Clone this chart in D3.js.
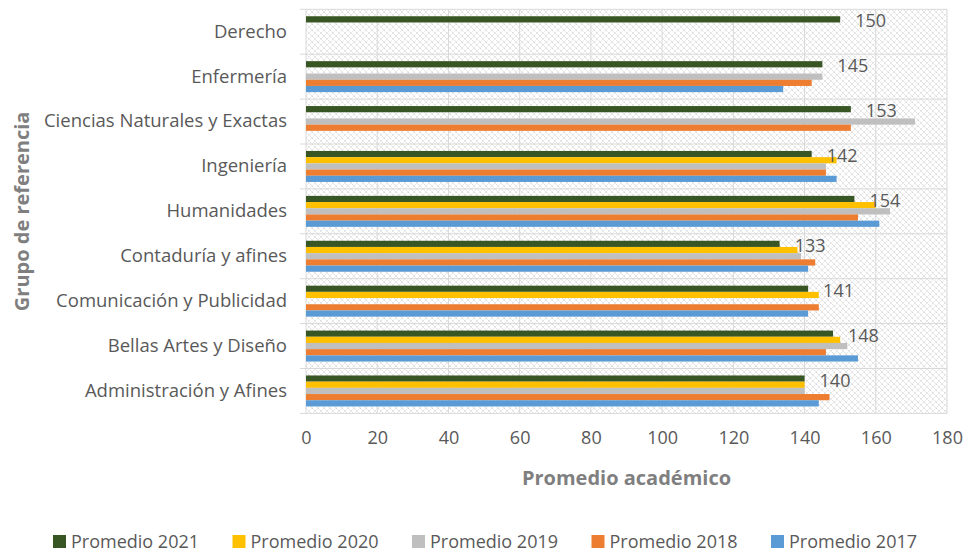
<!DOCTYPE html>
<html>
<head>
<meta charset="utf-8">
<script src="https://cdn.jsdelivr.net/npm/d3@7"></script>
<style>
  body { margin: 0; background: #fff; }
  svg { display: block; font-family: "Open Sans", sans-serif; }
  .tick text { fill: #595959; }
</style>
</head>
<body>
<div id="chart"></div>
<script>
// data
var categories = ["Derecho", "Enfermería", "Ciencias Naturales y Exactas", "Ingeniería",
  "Humanidades", "Contaduría y afines", "Comunicación y Publicidad",
  "Bellas Artes y Diseño", "Administración y Afines"];
var seriesNames = ["Promedio 2021", "Promedio 2020", "Promedio 2019", "Promedio 2018", "Promedio 2017"];
var prom2021 = [150, 145, 153, 142, 154, 133, 141, 148, 140];
var prom2020 = [null, null, null, 149, 160, 138, 144, 150, 140];
var prom2019 = [null, 145, 171, 146, 164, 139, null, 152, 140];
var prom2018 = [null, 142, 153, 146, 155, 143, 144, 146, 147];
var prom2017 = [null, 134, null, 149, 161, 141, 141, 155, 144];
var xTicks = [0, 20, 40, 60, 80, 100, 120, 140, 160, 180];
var colors = ["#375623", "#FFC000", "#BFBFBF", "#ED7D31", "#5B9BD5"];

var seriesValues = [prom2021, prom2020, prom2019, prom2018, prom2017];

// ****************************************************
var svgWidth = 965;
var svgHeight = 554;
var plot = { left: 306, right: 947, top: 9.3, bottom: 413.4 };

var svg = d3.select("#chart")
    .append("svg")
    .attr("width", svgWidth)
    .attr("height", svgHeight);

// hatch pattern for plot background
var defs = svg.append("defs");
var pat = defs.append("pattern")
    .attr("id", "hatch")
    .attr("patternUnits", "userSpaceOnUse")
    .attr("width", 6)
    .attr("height", 6);
pat.append("rect").attr("width", 6).attr("height", 6).attr("fill", "#fff");
pat.append("path")
    .attr("d", "M0,0 L6,6 M-1,5 L1,7 M5,-1 L7,1")
    .attr("stroke", "#d6d6d6")
    .attr("stroke-dasharray", "2,1")
    .attr("stroke-width", 1);
pat.append("path")
    .attr("d", "M0,6 L6,0 M-1,1 L1,-1 M5,7 L7,5")
    .attr("stroke", "#ececec")
    .attr("stroke-width", 1);

// ****************************************************
// scales
var xScale = d3.scaleLinear()
    .domain([0, 180])
    .range([plot.left, plot.right]);

var yScale = d3.scaleBand()
    .domain(categories)
    .range([plot.top, plot.bottom]);

var band = yScale.bandwidth();
var inner = d3.scaleBand()
    .domain(seriesNames)
    .range([band * 0.155, band * 0.845]);

// background
svg.append("rect")
    .attr("x", plot.left)
    .attr("y", plot.top)
    .attr("width", plot.right - plot.left)
    .attr("height", plot.bottom - plot.top)
    .attr("fill", "url(#hatch)");

// vertical gridlines
svg.append("g")
    .selectAll("line")
    .data(xTicks)
    .enter()
    .append("line")
    .attr("x1", function(d) { return xScale(d); })
    .attr("x2", function(d) { return xScale(d); })
    .attr("y1", plot.top)
    .attr("y2", plot.bottom)
    .attr("stroke", "#d9d9d9")
    .attr("stroke-width", 1);

// horizontal lines between categories (extend left as tick marks)
var bounds = categories.map(function(c) { return yScale(c); }).concat([plot.bottom]);
svg.append("g")
    .selectAll("line")
    .data(bounds)
    .enter()
    .append("line")
    .attr("x1", plot.left - 6)
    .attr("x2", plot.right)
    .attr("y1", function(d) { return d; })
    .attr("y2", function(d) { return d; })
    .attr("stroke", "#d9d9d9")
    .attr("stroke-width", 1);

// ****************************************************
// bars
var barData = [];
seriesValues.forEach(function(vals, si) {
  vals.forEach(function(v, ci) {
    if (v !== null) barData.push({ cat: categories[ci], series: seriesNames[si], value: v, color: colors[si] });
  });
});

svg.append("g")
    .selectAll("rect")
    .data(barData)
    .enter()
    .append("rect")
    .attr("x", xScale(0))
    .attr("y", function(d) { return yScale(d.cat) + inner(d.series); })
    .attr("width", function(d) { return xScale(d.value) - xScale(0); })
    .attr("height", inner.bandwidth())
    .attr("fill", function(d) { return d.color; });

// data labels for 2021
svg.append("g")
    .selectAll("text")
    .data(categories)
    .enter()
    .append("text")
    .attr("x", function(d, i) { return xScale(prom2021[i]) + 15; })
    .attr("y", function(d) { return yScale(d) + inner(seriesNames[0]) + inner.bandwidth() / 2 + 1; })
    .attr("dominant-baseline", "central")
    .attr("font-size", 18)
    .attr("fill", "#595959")
    .text(function(d, i) { return prom2021[i]; });

// ****************************************************
// axes
var xAxis = d3.axisBottom(xScale).tickValues(xTicks).tickSize(0).tickPadding(18);
svg.append("g")
    .attr("transform", "translate(0," + plot.bottom + ")")
    .call(xAxis)
    .call(function(g) { g.select(".domain").remove(); })
    .selectAll("text")
    .attr("font-size", 18)
    .attr("font-family", "Open Sans, sans-serif");

var yAxis = d3.axisLeft(yScale).tickSize(0).tickPadding(19);
svg.append("g")
    .attr("transform", "translate(" + plot.left + ",0)")
    .call(yAxis)
    .call(function(g) { g.select(".domain").remove(); })
    .selectAll("text")
    .attr("font-size", 18.5)
    .attr("font-family", "Open Sans, sans-serif");

// axis titles
svg.append("text")
    .attr("x", (plot.left + plot.right) / 2)
    .attr("y", 477)
    .attr("text-anchor", "middle")
    .attr("dominant-baseline", "central")
    .attr("font-size", 20)
    .attr("font-weight", "bold")
    .attr("fill", "#7f7f7f")
    .text("Promedio académico");

svg.append("text")
    .attr("transform", "translate(21," + ((plot.top + plot.bottom) / 2) + ") rotate(-90)")
    .attr("text-anchor", "middle")
    .attr("dominant-baseline", "central")
    .attr("font-size", 20)
    .attr("font-weight", "bold")
    .attr("fill", "#7f7f7f")
    .text("Grupo de referencia");

// ****************************************************
// legend
var legend = svg.append("g").attr("transform", "translate(53,541)");
var item = legend.selectAll("g")
    .data(seriesNames)
    .enter()
    .append("g")
    .attr("transform", function(d, i) { return "translate(" + (i * 179.5) + ",0)"; });

item.append("rect")
    .attr("x", 0)
    .attr("y", -6)
    .attr("width", 13)
    .attr("height", 13)
    .attr("fill", function(d, i) { return colors[i]; });

item.append("text")
    .attr("x", 18)
    .attr("y", 0)
    .attr("dominant-baseline", "central")
    .attr("font-size", 18)
    .attr("fill", "#595959")
    .text(function(d) { return d; });
</script>
</body>
</html>
